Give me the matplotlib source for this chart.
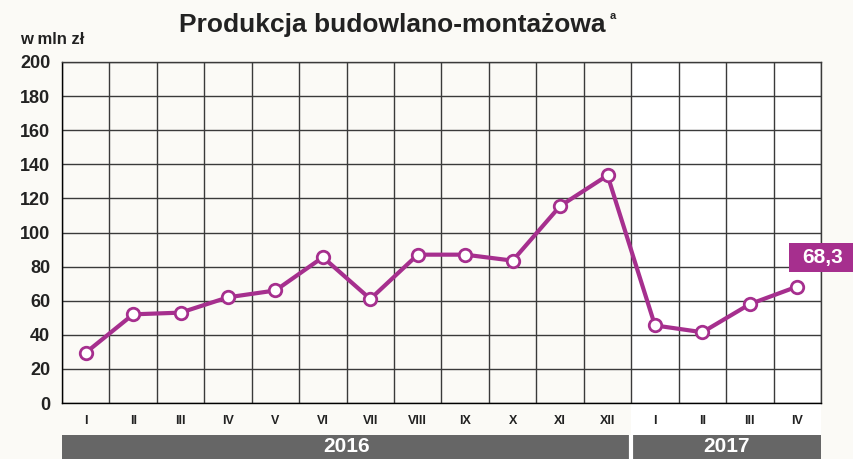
import matplotlib.pyplot as plt
from matplotlib.patches import Rectangle

plt.rcParams['font.family'] = ['Liberation Sans', 'DejaVu Sans']
plt.rcParams['font.weight'] = 'bold'

months = ['I', 'II', 'III', 'IV', 'V', 'VI', 'VII', 'VIII', 'IX', 'X', 'XI', 'XII',
          'I', 'II', 'III', 'IV']
values = [29.5, 52, 53, 62, 66, 85.5, 61, 87, 87, 83.5, 115.5, 133.5,
          45.5, 41.5, 58, 68.3]
years = ['2016', '2017']
year_months = [12, 4]
last_label = '68,3'

bg = '#fbfaf6'
purple = '#a62f8e'
gridc = '#3a3a3a'

fig = plt.figure(figsize=(8.54, 4.59), dpi=100, facecolor=bg)
W, H = 854, 459
ax = fig.add_axes([62 / W, 1 - 403 / H, (821 - 62) / W, (403 - 62) / H])
ax.set_facecolor(bg)

n = len(months)
x = [i + 0.5 for i in range(n)]

# white area for 2017 (plot + tick label strip)
start17 = year_months[0]
ax.add_patch(Rectangle((start17, -32 / 341), year_months[1], 1 + 32 / 341,
                       transform=ax.get_xaxis_transform(), facecolor='white',
                       edgecolor='none', clip_on=False, zorder=0))

ax.set_xlim(0, n)
ax.set_ylim(0, 200)
ax.set_xticks(range(n + 1))
ax.set_xticklabels([])
ax.set_xticks(x, minor=True)
ax.set_xticklabels(months, minor=True, fontsize=9, fontweight='bold', color='#222222')
ax.set_yticks(range(0, 201, 20))
ax.set_yticklabels([str(v) for v in range(0, 201, 20)], fontsize=13, fontweight='bold',
                   color='#222222')
ax.tick_params(axis='x', which='both', length=0, pad=9)
ax.tick_params(axis='y', length=0, pad=8.5)
ax.grid(True, color=gridc, lw=1.0, zorder=1)
ax.set_axisbelow(True)
for s in ax.spines.values():
    s.set_color(gridc)
    s.set_linewidth(1.0)
ax.spines['left'].set_color('black')
ax.spines['bottom'].set_color('black')

ax.plot(x, values, color=purple, lw=3, marker='o', ms=9, mfc='white', mec=purple,
        mew=2, zorder=3, clip_on=False)

# value box for the last point
ax.add_patch(Rectangle((n - 0.67, values[-1] + 8.5), 1.4, 17, facecolor=purple,
                       edgecolor='none', clip_on=False, zorder=4))
ax.text(n + 0.03, values[-1] + 17.2, last_label, ha='center', va='center', fontsize=15,
        fontweight='bold', color='white', clip_on=False, zorder=5)

# year bar
yax = fig.add_axes([62 / W, 0, (821 - 62) / W, 24 / H])
yax.set_xlim(0, n)
yax.set_ylim(0, 1)
yax.axis('off')
left = 0
for yr, cnt in zip(years, year_months):
    yax.bar(left, 1.2, width=cnt, align='edge', color='#666666', edgecolor='none')
    yax.text(left + cnt / 2, 0.5, yr, ha='center', va='center', color='white',
             fontsize=15, fontweight='bold')
    left += cnt
yax.axvline(start17, color='white', lw=3)

fig.text(392 / W, 0.946, 'Produkcja budowlano-montażowa', ha='center', va='center',
         fontsize=19, fontweight='bold', color='#222222')
fig.text(610 / W, 0.965, 'a', ha='left', va='center', fontsize=8, fontweight='bold',
         color='#222222')
fig.text(20 / W, 1 - 40 / H, 'w mln zł', ha='left', va='center', fontsize=12,
         fontweight='bold', color='#222222')

fig.savefig('out.png', dpi=100, facecolor=bg)
